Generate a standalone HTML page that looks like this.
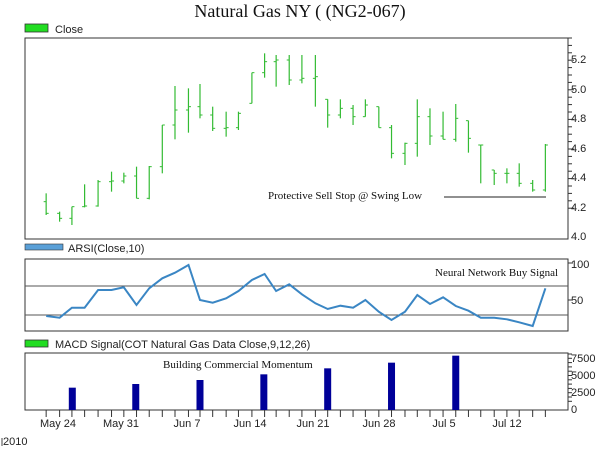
<!DOCTYPE html>
<html><head><meta charset="utf-8"><style>
html,body{margin:0;padding:0;background:#fff;}
svg{display:block;}
.s{font-family:"Liberation Sans",sans-serif;font-size:11px;fill:#222;}
.t{font-family:"Liberation Serif",serif;fill:#111;}
</style></head><body>
<svg id="c" width="600" height="450" xmlns="http://www.w3.org/2000/svg">
<rect width="600" height="450" fill="#fff"/>
<text class="t" x="300" y="17" font-size="18" text-anchor="middle">Natural Gas NY ( (NG2-067)</text>
<rect x="25" y="24" width="23" height="8" fill="#22dd22" stroke="#333" stroke-width="0.8"/>
<text class="s" x="55" y="33">Close</text>
<rect x="25" y="38" width="543" height="201" fill="none" stroke="#333" stroke-width="1"/>
<text class="t" x="268" y="199" font-size="11">Protective Sell Stop @ Swing Low</text>
<line x1="444" y1="197" x2="546" y2="197" stroke="#222" stroke-width="1"/>
<g class="s"><text x="571" y="63">5.2</text><text x="571" y="93">5.0</text><text x="571" y="122">4.8</text><text x="571" y="152">4.6</text><text x="571" y="181">4.4</text><text x="571" y="211">4.2</text><text x="571" y="240">4.0</text></g>
<rect x="25" y="244" width="38" height="6" fill="#5aa0d8" stroke="#333" stroke-width="0.6"/>
<text class="s" x="68" y="252">ARSI(Close,10)</text>
<rect x="25" y="259" width="543" height="72" fill="none" stroke="#333" stroke-width="1"/>
<line x1="25" y1="286" x2="568" y2="286" stroke="#555"/>
<line x1="25" y1="315" x2="568" y2="315" stroke="#555"/>
<text class="t" x="435" y="276" font-size="11">Neural Network Buy Signal</text>
<g class="s"><text x="571" y="268">100</text><text x="571" y="304">50</text></g>
<rect x="25" y="340" width="23" height="7" fill="#22dd22" stroke="#333" stroke-width="0.8"/>
<text class="s" x="55" y="348">MACD Signal(COT Natural Gas Data Close,9,12,26)</text>
<rect x="25" y="353" width="543" height="57" fill="none" stroke="#333" stroke-width="1"/>
<text class="t" x="163" y="368" font-size="11">Building Commercial Momentum</text>
<g class="s"><text x="571" y="362">7500</text><text x="571" y="379">5000</text><text x="571" y="396">2500</text><text x="571" y="413">0</text></g>
<g class="s" font-size="10" text-anchor="middle"><text x="58" y="427">May 24</text><text x="121" y="427">May 31</text><text x="187" y="427">Jun 7</text><text x="250" y="427">Jun 14</text><text x="313" y="427">Jun 21</text><text x="379" y="427">Jun 28</text><text x="444" y="427">Jul 5</text><text x="507" y="427">Jul 12</text></g>
<text class="s" x="3" y="445" font-size="10">2010</text>
<line x1="2" y1="438" x2="2" y2="446" stroke="#444"/>
<g id="g"></g>
</svg>
<script>
var g=document.getElementById('g'),h='';
var xs=[120,155,187,220,255,290,322,355,388,422,455,490,520,553,588,620,655,688,718,752,785,820,852,885,918,950,985,1018,1053,1085,1118,1152,1185,1218,1250,1285,1318,1350,1385,1418];
var d=[[580,645,640],[635,665,655],[620,675,620],[553,622,618],[540,620,545],[515,575,543],[518,550,528],[500,595,595],[498,598,500],[375,520,375],[258,418,330],[265,398,320],[252,355,345],[320,393,385],[335,410,383],[335,390,340],[218,310,218],[160,233,185],[165,260,180],[165,255,240],[165,250,235],[165,320,230],[298,383,345],[298,355,325],[315,375,350],[298,350,315],[320,383,383],[375,475,460],[428,495,430],[298,470,350],[325,435,408],[335,418,418],[312,425,355],[362,458,415],[435,550,435],[510,555,520],[505,550,520],[490,560,550],[540,575,570],[432,575,435]];
for(var i=0;i<40;i++){var x=xs[i]*0.3846,a=d[i][0]/3,b=d[i][1]/3,c=d[i][2]/3,o=(i==0?605:d[i-1][2])/3;o=Math.min(Math.max(o,a),b);
h+='<line x1="'+x+'" y1="'+a+'" x2="'+x+'" y2="'+b+'" stroke="#33bb33" stroke-width="1.2"/>';
h+='<line x1="'+(x-2.5)+'" y1="'+o+'" x2="'+x+'" y2="'+o+'" stroke="#33bb33"/>';
h+='<line x1="'+x+'" y1="'+c+'" x2="'+(x+2.5)+'" y2="'+c+'" stroke="#33bb33"/>';
h+='<line x1="'+x+'" y1="410" x2="'+x+'" y2="417" stroke="#333"/>';}
var r=[198,203,173,173,120,120,112,165,115,85,68,45,150,158,145,123,90,72,123,103,133,160,177,167,173,150,185,210,185,135,162,142,168,182,203,203,208,217,228,115],p='';
for(i=0;i<40;i++)p+=(xs[i]*0.3846).toFixed(1)+','+(250+r[i]/3).toFixed(1)+' ';
h+='<polyline points="'+p+'" fill="none" stroke="#3a86c4" stroke-width="2"/>';
var mx=[188,353,520,686,852,1018,1185],mt=[413,402,390,373,355,338,317];
for(i=0;i<7;i++){var y=250+mt[i]/3;h+='<rect x="'+(mx[i]*0.3846-3.5)+'" y="'+y+'" width="7" height="'+(410-y)+'" fill="#000099"/>';}
for(i=0;i<24;i++){var y=38+i*7.4;h+='<line x1="568" y1="'+y+'" x2="'+(i%4==3?574:572)+'" y2="'+y+'" stroke="#333"/>';}
for(i=0;i<12;i++){var y=354+i*4.3;h+='<line x1="568" y1="'+y+'" x2="572" y2="'+y+'" stroke="#333"/>';}
h+='<line x1="568" y1="263" x2="573" y2="263" stroke="#333"/><line x1="568" y1="300" x2="573" y2="300" stroke="#333"/>';
g.innerHTML=h;
</script>
</body></html>
